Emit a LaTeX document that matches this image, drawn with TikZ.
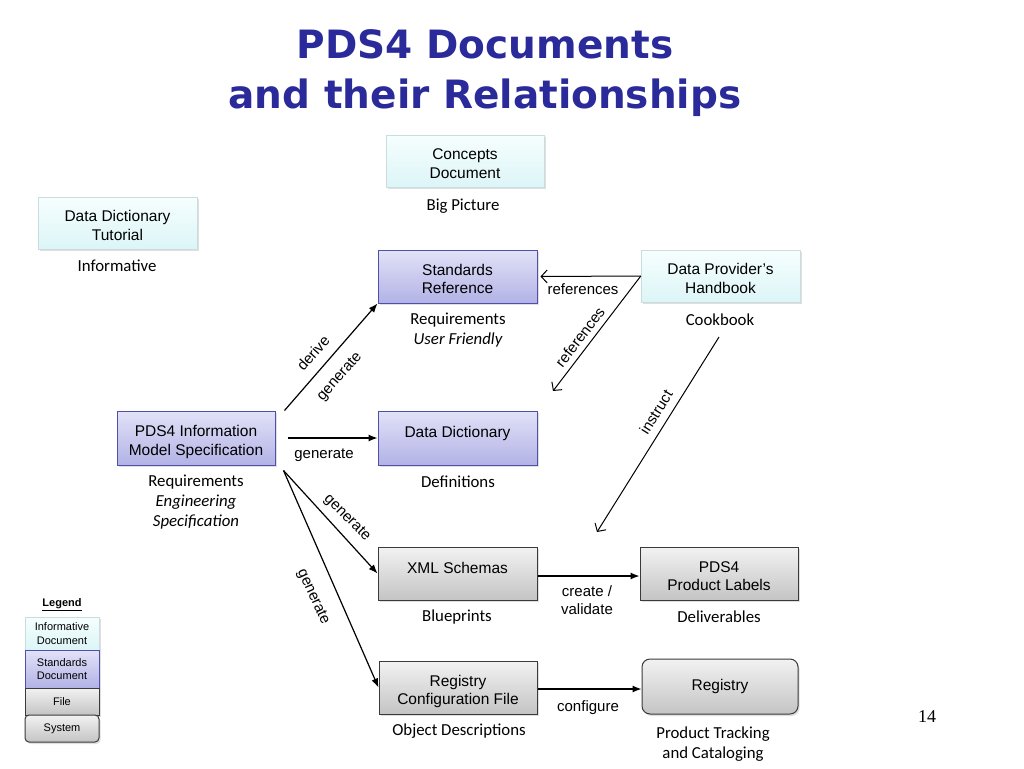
\documentclass[tikz,border=0pt]{standalone}
\usepackage{fontspec}
\setmainfont{Liberation Sans}
\newfontfamily\titlefont{DejaVu Sans}
\newfontfamily\calfont{Carlito}
\newfontfamily\numfont{Liberation Serif}
\usetikzlibrary{arrows.meta,shadows,calc}
\definecolor{titleblue}{HTML}{2A2A9A}
\definecolor{infotop}{HTML}{F6FEFE}
\definecolor{infobot}{HTML}{DCF5F7}
\definecolor{stdtop}{HTML}{E2E2F8}
\definecolor{stdbot}{HTML}{B2B2E6}
\definecolor{stdborder}{HTML}{5050A8}
\definecolor{filetop}{HTML}{F2F2F2}
\definecolor{filebot}{HTML}{C4C4C4}
\definecolor{fileborder}{HTML}{3A3A3A}
\tikzset{
  boxbase/.style={align=center, font=\fontsize{15.5}{18.5}\selectfont, inner sep=0pt,
     drop shadow={opacity=0.25, shadow xshift=1.5pt, shadow yshift=-2pt}},
  infobox/.style={boxbase, draw=infobot!80!gray, line width=0.4pt, top color=infotop, bottom color=infobot},
  stdbox/.style={boxbase, draw=stdborder, line width=1pt, top color=stdtop, bottom color=stdbot},
  filebox/.style={boxbase, draw=fileborder, line width=1pt, top color=filetop, bottom color=filebot},
  sysbox/.style={filebox, rounded corners=8pt},
  twoline/.style={text height=34pt, text depth=0pt},
  topline/.style={text height=12pt, text depth=13pt},
  sublabel/.style={align=center, font=\calfont\fontsize{16.8}{20}\selectfont, inner sep=0pt},
  conlabel/.style={align=center, font=\fontsize{15}{18}\selectfont, inner sep=0pt},
  legbox/.style={align=center, font=\fontsize{11}{13.5}\selectfont, inner sep=0pt, minimum width=74pt},
  fillarrow/.style={line width=1.2pt, -{Latex[length=9pt,width=7pt]}},
  openarrow/.style={line width=1pt, -{Straight Barb[length=6pt,width=13pt]}},
}
\begin{document}
\begin{tikzpicture}[x=1pt,y=-1pt]
\useasboundingbox (0,0) rectangle (1024,768);
\fill[white] (0,0) rectangle (1024,768);
% title
\node[font=\titlefont\bfseries\fontsize{39}{50}\selectfont, text=titleblue, align=center] (title) at (485,73) {PDS4 Documents\\and their Relationships};
% boxes
\node[infobox, twoline, minimum width=158pt, minimum height=52pt] (cd) at (465,161) {Concepts\\Document};
\node[infobox, twoline, minimum width=159pt, minimum height=52pt] (ddt) at (117.5,223) {Data Dictionary\\Tutorial};
\node[stdbox, twoline, minimum width=159pt, minimum height=53pt] (sr) at (457.5,276.5) {Standards\\Reference};
\node[infobox, twoline, minimum width=159pt, minimum height=52pt] (dph) at (720.5,276) {Data Provider’s\\Handbook};
\node[stdbox, twoline, minimum width=158pt, minimum height=54pt] (im) at (196,438) {PDS4 Information\\Model Specification};
\node[stdbox, topline, minimum width=159pt, minimum height=54pt] (dd) at (457.5,438) {Data Dictionary};
\node[filebox, topline, minimum width=159pt, minimum height=53pt] (xml) at (457.5,573.5) {XML Schemas};
\node[filebox, twoline, minimum width=158pt, minimum height=53pt] (pl) at (719,573.5) {PDS4\\Product Labels};
\node[filebox, twoline, minimum width=158pt, minimum height=53pt] (rc) at (458,687.5) {Registry\\Configuration File};
\node[sysbox, minimum width=156pt, minimum height=55pt] (reg) at (720,686.5) {Registry};
% sub labels
\node[sublabel] (lcd) at (463,206.5) {Big Picture};
\node[sublabel] (lddt) at (117,266) {Informative};
\node[sublabel] (lsr) at (458,330.5) {Requirements\\\itshape User Friendly};
\node[sublabel] (ldph) at (720,320) {Cookbook};
\node[sublabel] (lim) at (196,502) {Requirements\\\itshape Engineering\\\itshape Specification};
\node[sublabel] (ldd) at (458,482) {Definitions};
\node[sublabel] (lxml) at (457,617) {Blueprints};
\node[sublabel] (lpl) at (719,617) {Deliverables};
\node[sublabel] (lrc) at (459,731) {Object Descriptions};
\node[sublabel] (lreg) at (713,744) {Product Tracking\\and Cataloging};
% connectors
\coordinate (imne) at ($(im.north east)+(9,0)$);
\coordinate (ime) at ($(im.east)+(12,0)$);
\coordinate (imse) at ($(im.south east)+(8,5)$);
\coordinate (srin) at ($(sr.east)+(3,0)$);
\coordinate (refend) at (553,391);
\coordinate (inststart) at (719,337);
\coordinate (instend) at (597,532);
\draw[fillarrow] (imne) -- (sr.south west);
\draw[fillarrow] (ime) -- (dd.west);
\draw[fillarrow] (imse) -- (xml.west);
\draw[fillarrow] (imse) -- (rc.west);
\draw[fillarrow] ($(xml.east)+(0,2.5)$) -- ($(xml.east -| pl.west)+(0,2.5)$);
\draw[fillarrow] ($(rc.east)+(0,1.5)$) -- ($(rc.east -| reg.west)+(0,1.5)$);
\draw[openarrow] (dph.west) -- (srin);
\draw[openarrow] (dph.west) -- (refend);
\draw[openarrow] (inststart) -- (instend);
% connector labels
\node[conlabel, rotate=48.7] (lderive) at (313,353) {derive};
\node[conlabel, rotate=48.7] (lgen1) at (340,377) {generate};
\node[conlabel] (lgen2) at (324,455) {generate};
\node[conlabel, rotate=-45] (lgen3) at (347,518) {generate};
\node[conlabel, rotate=-65.5] (lgen4) at (313,597) {generate};
\node[conlabel] (lref1) at (583,289) {references};
\node[conlabel, rotate=52.6] (lref2) at (580,337) {references};
\node[conlabel, rotate=58] (linst) at (656,412) {instruct};
\node[conlabel] (lcv) at (587,600) {create /\\validate};
\node[conlabel] (lcf) at (588,708) {configure};
% legend
\node[font=\bfseries\fontsize{11}{13}\selectfont, inner sep=0pt] (legtitle) at (62,605) {\underline{Legend}};
\node[legbox, infobox, font=\fontsize{11}{13.5}\selectfont, minimum height=33pt, drop shadow={opacity=0}] (l1) at (62,633.5) {Informative\\Document};
\node[legbox, stdbox, font=\fontsize{11}{13.5}\selectfont, minimum height=38pt, drop shadow={opacity=0}] (l2) at (62,669) {Standards\\Document};
\node[legbox, filebox, font=\fontsize{11}{13.5}\selectfont, minimum height=27pt, drop shadow={opacity=0}] (l3) at (62,701.5) {File};
\node[legbox, sysbox, font=\fontsize{11}{13.5}\selectfont, minimum height=27pt, rounded corners=4pt] (l4) at (62,728.5) {System};
% page number
\node[font=\numfont\fontsize{18}{20}\selectfont, inner sep=0pt] (pn) at (927,717) {14};
\end{tikzpicture}
\end{document}
